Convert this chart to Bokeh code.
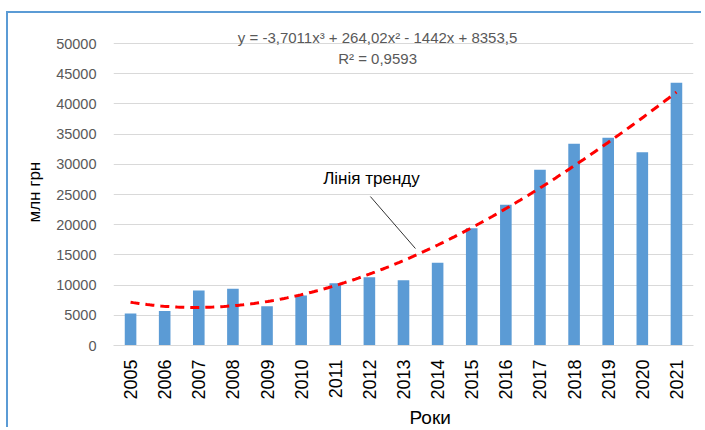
import numpy as np
from bokeh.plotting import figure
from bokeh.models import ColumnDataSource, FixedTicker, Label, Arrow, Title
from bokeh.embed import file_html
from bokeh.resources import INLINE

years = [2005, 2006, 2007, 2008, 2009, 2010, 2011, 2012, 2013,
         2014, 2015, 2016, 2017, 2018, 2019, 2020, 2021]
values = [5300, 5700, 9100, 9400, 6500, 8300, 10300, 11300, 10800,
          13700, 19400, 23300, 29100, 33400, 34400, 32000, 43500]
# trendline coefficients shown on the chart (x = 1..17)
trend_coefs = [-3.7011, 264.02, -1442.0, 8353.5]
y_ticks = [0, 5000, 10000, 15000, 20000, 25000, 30000, 35000, 40000, 45000, 50000]

equation_text = "y = -3,7011x\u00b3 + 264,02x\u00b2 - 1442x + 8353,5"
r2_text = "R\u00b2 = 0,9593"
trend_label = "Лінія тренду"
x_title = "Роки"
y_title = "млн грн"

p = figure(width=695, height=416, output_backend="svg", toolbar_location=None,
           x_range=(2004.5, 2021.5), y_range=(0, 53000),
           min_border_left=105, min_border_right=10, min_border_top=12,
           min_border_bottom=84)
p.styles = {"border-left": "2px solid #5B9BD5", "border-top": "2px solid #5B9BD5",
            "margin-left": "6px", "margin-top": "11px"}
p.outline_line_color = None
p.background_fill_color = "white"
p.border_fill_color = "white"

src = ColumnDataSource(dict(x=years, top=values))
p.vbar(x="x", top="top", width=0.34, source=src, fill_color="#5B9BD5",
       line_color=None)

t = np.linspace(1, len(years), 200)
trend_y = np.polyval(trend_coefs, t)
trend_x = years[0] - 1 + t
p.line(trend_x, trend_y, line_color="#FF0000", line_width=3, line_dash="9 6")

# axes
p.xaxis.ticker = FixedTicker(ticks=years)
p.xaxis.major_label_orientation = np.pi / 2
p.xaxis.major_tick_line_color = None
p.xaxis.major_tick_out = 0
p.xaxis.major_tick_in = 0
p.xaxis.minor_tick_line_color = None
p.xaxis.axis_line_color = "#D9D9D9"
p.xaxis.major_label_text_font = "Liberation Sans"
p.xaxis.major_label_text_font_size = "18px"
p.xaxis.major_label_text_color = "black"
p.xaxis.major_label_standoff = 14

p.yaxis.ticker = FixedTicker(ticks=y_ticks)
p.yaxis.axis_line_color = None
p.yaxis.major_tick_line_color = None
p.yaxis.major_tick_out = 0
p.yaxis.major_tick_in = 0
p.yaxis.minor_tick_line_color = None
p.yaxis.major_label_text_font = "Liberation Sans"
p.yaxis.major_label_text_font_size = "14.5px"
p.yaxis.major_label_text_color = "#595959"
p.yaxis.major_label_standoff = 17

p.xgrid.grid_line_color = None
p.ygrid.grid_line_color = "#D9D9D9"
p.ygrid.grid_line_width = 1

# axis titles, offset along the frame as in the reference
p.add_layout(Title(text=x_title, align="left", offset=296, standoff=4,
                   text_font="Liberation Sans", text_font_size="19px",
                   text_font_style="normal", text_color="black"), "below")
p.add_layout(Title(text=y_title, align="left", offset=123, standoff=20,
                   text_font="Liberation Sans", text_font_size="17px",
                   text_font_style="normal", text_color="black"), "left")

p.add_layout(Label(x=2012.24, y=51000, text=equation_text, text_align="center",
                   text_baseline="middle", text_font="Liberation Sans",
                   text_font_size="15px", text_color="#595959"))
p.add_layout(Label(x=2012.24, y=47500, text=r2_text, text_align="center",
                   text_baseline="middle", text_font="Liberation Sans",
                   text_font_size="15px", text_color="#595959"))
p.add_layout(Label(x=2012.06, y=27650, text=trend_label, text_align="center",
                   text_baseline="middle", text_font="Liberation Sans",
                   text_font_size="17px", text_color="black"))
p.add_layout(Arrow(end=None, x_start=2012.03, y_start=24670, x_end=2013.35,
                   y_end=16060, line_color="#333333", line_width=1))

open("out.html", "w").write(file_html(p, INLINE))
